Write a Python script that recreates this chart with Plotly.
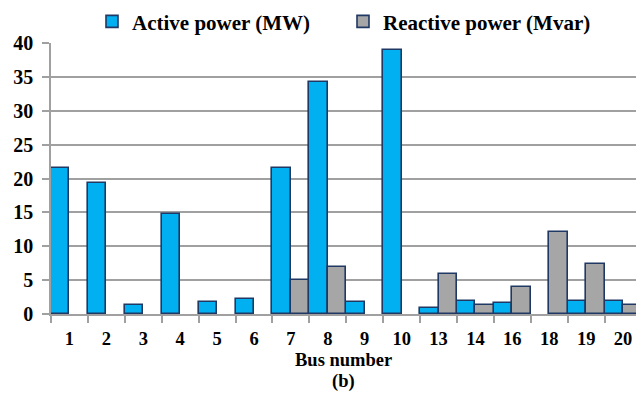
import plotly.graph_objects as go

buses = ["1", "2", "3", "4", "5", "6", "7", "8", "9", "10", "13", "14", "16", "18", "19", "20"]
active_mw = [21.5, 19.4, 1.3, 14.75, 1.75, 2.25, 21.5, 34.2, 1.75, 38.9, 0.9, 1.9, 1.6, 0, 1.95, 1.9]
reactive_mvar = [0, 0, 0, 0, 0, 0, 4.95, 7.0, 0, 0, 5.9, 1.3, 4.0, 12.1, 7.45, 1.3]
y_ticks = [0, 5, 10, 15, 20, 25, 30, 35, 40]
x_title = "Bus number"
sub_label = "(b)"

def nz(vals):
    return [v if v != 0 else None for v in vals]

FAM = "Liberation Serif, DejaVu Serif, serif"
FONT = dict(family=FAM, size=21, color="black", weight="bold")
YTICKFONT = dict(family=FAM, size=20, color="black", weight="bold")
XFONT = dict(family=FAM, size=18.5, color="black", weight="bold")
EDGE = dict(color="#1F3864", width=1.6)
GRID = "#a0a0a0"
PLOT_H = 271

fig = go.Figure()
fig.add_trace(go.Bar(x=buses, y=nz(active_mw), name="Active power (MW)",
                     marker=dict(color="#00B0F0", line=EDGE)))
fig.add_trace(go.Bar(x=buses, y=nz(reactive_mvar), name="Reactive power (Mvar)",
                     marker=dict(color="#A6A6A6", line=EDGE)))

fig.update_layout(
    width=636, height=394,
    margin=dict(l=51, r=0, t=43, b=80, autoexpand=False),
    paper_bgcolor="white", plot_bgcolor="white",
    barmode="group", bargap=0, bargroupgap=0,
    font=FONT,
    showlegend=True,
    legend=dict(orientation="h", x=92 / 636, xanchor="left", xref="container",
                y=0.997, yanchor="top", yref="container",
                font=FONT, itemwidth=30, entrywidth=206, entrywidthmode="pixels",
                traceorder="normal", tracegroupgap=0,
                bgcolor="rgba(0,0,0,0)"),
    xaxis=dict(type="category", range=[-0.5, 15.35], showgrid=False, automargin=False,
               showline=True, linecolor=GRID, linewidth=1.5,
               ticks="outside", tickson="boundaries", ticklen=7, tickcolor=GRID, tickwidth=1.5,
               tickfont=XFONT, ticklabelstandoff=7),
    yaxis=dict(range=[0, 40], tickvals=y_ticks, showgrid=True, gridcolor=GRID, gridwidth=1.5,
               automargin=False,
               showline=True, linecolor=GRID, linewidth=1.5,
               ticks="outside", ticklen=7, tickcolor=GRID, tickwidth=1.5,
               tickfont=YTICKFONT, ticklabelstandoff=5, zeroline=False),
    annotations=[
        dict(text=x_title, xref="paper", yref="paper", x=0.5, y=-(360 - 314) / PLOT_H,
             xanchor="center", yanchor="middle", showarrow=False, font=XFONT),
        dict(text=sub_label, xref="paper", yref="paper", x=0.5, y=-(381.5 - 314) / PLOT_H,
             xanchor="center", yanchor="middle", showarrow=False, font=XFONT),
    ],
)

fig.write_html("out.html", config={"displayModeBar": False},
               post_script="document.body.style.margin='0';document.body.style.padding='0';")
